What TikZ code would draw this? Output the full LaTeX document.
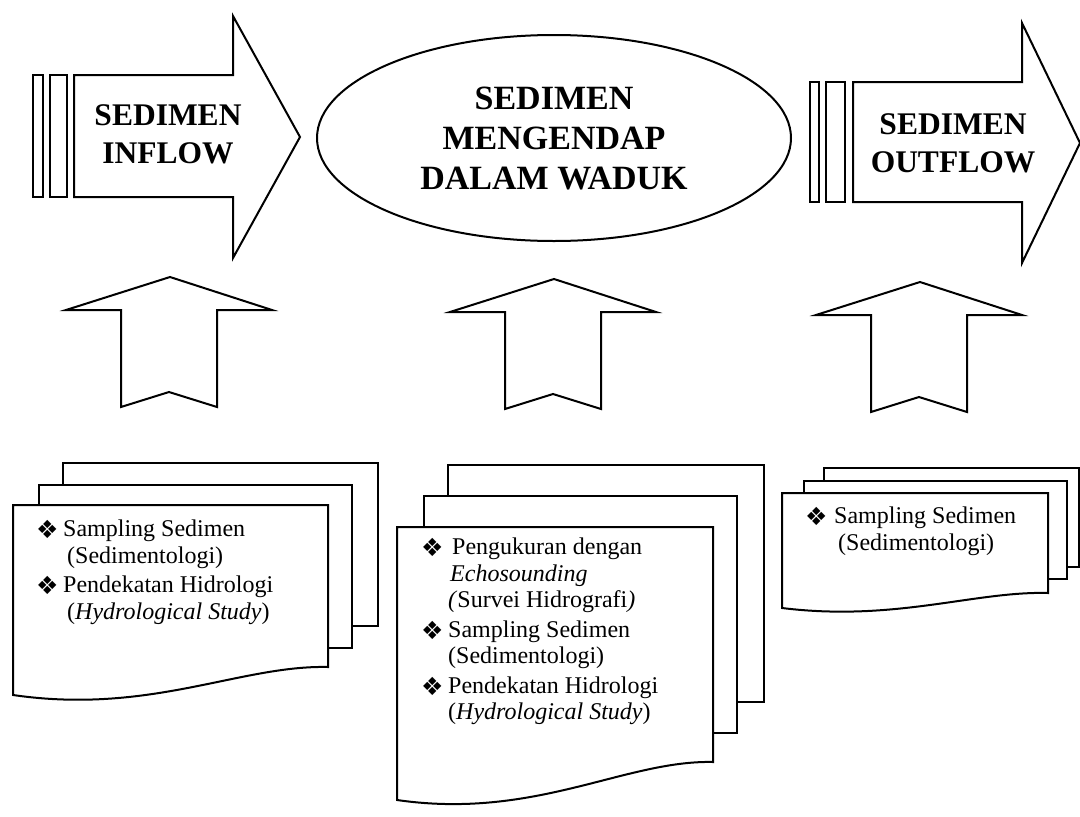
\documentclass[tikz,border=0pt]{standalone}
\usepackage{fontspec}
\setmainfont{Liberation Serif}
\newfontfamily\symfont{DejaVu Sans}
\usepackage{tikz}
\usetikzlibrary{shapes.geometric}
\newcommand{\bul}{\makebox[23pt][l]{\raisebox{-2pt}{\symfont\fontsize{25}{25}\selectfont\char"2756}}}
\tikzstyle{outline}=[draw, line width=2pt, line join=miter, fill=white]
\tikzstyle{bar}=[draw, line width=1.6pt, fill=white]
\tikzstyle{bigtext}=[font=\fontsize{31.5}{38}\selectfont\bfseries, align=center, inner sep=0]
\tikzstyle{listtext}=[font=\fontsize{24}{26.5}\selectfont, anchor=north west, inner sep=0]
\newcommand{\upblock}[2]{\draw[outline] (#1,#2) -- ++(102,33) -- ++(-55,0) -- ++(0,97)
    -- ++(-48,-15) -- ++(-48,15) -- ++(0,-97) -- ++(-55,0) -- cycle;}

\begin{document}
\begin{tikzpicture}[x=1pt, y=-1pt]
    \useasboundingbox (0,0) rectangle (1080,817);
    % inflow
    \draw[bar] (33,75) rectangle (43,197);
    \draw[bar] (50,75) rectangle (67,197);
    \draw[outline] (74,75) -- (233,75) -- (233,16) -- (300,137) -- (233,258) -- (233,197) -- (74,197) -- cycle;
    \node[bigtext] (inflow) at (168,134) {SEDIMEN\\INFLOW};
    % waduk
    \node[ellipse, draw, line width=2pt, minimum width=474pt, minimum height=206pt,
          font=\fontsize{34}{40}\selectfont\bfseries, align=center, inner sep=0] (waduk) at (554,138)
          {SEDIMEN\\MENGENDAP\\DALAM WADUK};
    % outflow
    \draw[bar] (810,82) rectangle (819,202);
    \draw[bar] (826,82) rectangle (845,202);
    \draw[outline] (853,82) -- (1022,82) -- (1022,23) -- (1080,143) -- (1022,263) -- (1022,202) -- (853,202) -- cycle;
    \node[bigtext] (outflow) at (953,143) {SEDIMEN\\OUTFLOW};

    \upblock{170}{277}
    \upblock{554}{279}
    \upblock{920}{282}

    % left stack
    \draw[outline] (63,463) rectangle (378,626);
    \draw[outline] (39,485) rectangle (352,648);
    \draw[outline] (13,505) -- (328,505) -- (328,667) .. controls (240,665) and (150,715) .. (13,695) -- cycle;
    \node[listtext] (leftlist) at (36,518) {\begin{tabular}{@{}l@{\hspace{4pt}}l@{}}
        \bul & Sampling Sedimen\\
             & \hspace{4pt}(Sedimentologi)\\[3pt]
        \bul & Pendekatan Hidrologi\\
             & \hspace{4pt}(\textit{Hydrological Study})
    \end{tabular}};

    % middle stack
    \draw[outline] (448,465) rectangle (764,702);
    \draw[outline] (424,496) rectangle (737,733);
    \draw[outline] (397,527) -- (713,527) -- (713,762) .. controls (625,760) and (535,820) .. (397,800) -- cycle;
    \node[listtext] (midlist) at (421,536) {\begin{tabular}{@{}l@{\hspace{4pt}}l@{}}
        \bul & \hspace{4pt}Pengukuran dengan\\
             & \hspace{2pt}\textit{Echosounding}\\
             & \textit{(}Survei Hidrografi\textit{)}\\[3pt]
        \bul & Sampling Sedimen\\
             & (Sedimentologi)\\[3pt]
        \bul & Pendekatan Hidrologi\\
             & (\textit{Hydrological Study})
    \end{tabular}};

    % right stack
    \draw[outline] (824,468) rectangle (1079,567);
    \draw[outline] (804,481) rectangle (1067,579);
    \draw[outline] (782,493) -- (1048,493) -- (1048,593) .. controls (975,591) and (895,622) .. (782,608) -- cycle;
    \node[listtext] (rightlist) at (805,505) {\begin{tabular}{@{}l@{\hspace{6pt}}l@{}}
        \bul & Sampling Sedimen\\
             & \hspace{4pt}(Sedimentologi)
    \end{tabular}};
\end{tikzpicture}
\end{document}
